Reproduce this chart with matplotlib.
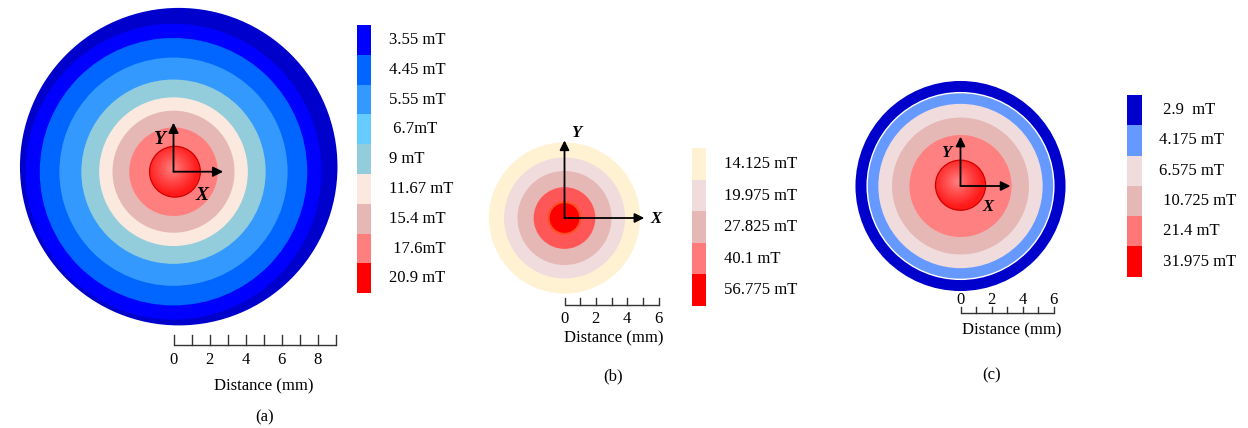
import numpy as np
import matplotlib
matplotlib.use("Agg")
import matplotlib.pyplot as plt
from matplotlib.patches import Circle
from matplotlib.colors import LinearSegmentedColormap

plt.rcParams["font.family"] = ["Liberation Serif", "DejaVu Serif"]

# ---------------- data ----------------
# (a) contour rings, outer -> inner, radius in mm
rings_a_radius = [8.22, 7.43, 6.34, 5.12, 4.13, 3.39, 2.46]
rings_a_color = ["#0000ff", "#0066ff", "#3399ff", "#93cddb", "#fbe9df", "#e5b8b6", "#ff7f7f"]
shell_a = (0.29, 0.28, 8.82)          # outer shell: centre offset x, y and radius (mm)
shell_a_color = "#0000cc"
ball_a_radius = 1.41

legend_a_labels = ["3.55 mT", "4.45 mT", "5.55 mT", " 6.7mT", "9 mT",
                   "11.67 mT", "15.4 mT", " 17.6mT", "20.9 mT"]
legend_a_colors = ["#0000ff", "#0066ff", "#3399ff", "#66ccff", "#93cddb",
                   "#fbe9df", "#e5b8b6", "#ff7f7f", "#ff0000"]

# (b)
rings_b_radius = [4.82, 3.86, 3.00, 1.97, 1.01]
rings_b_color = ["#fff2d2", "#f0dcdc", "#e5b8b6", "#ff5757", "#ff0000"]
legend_b_labels = ["14.125 mT", "19.975 mT", "27.825 mT", "40.1 mT", "56.775 mT"]
legend_b_colors = ["#fff2d2", "#f0dcdc", "#e5b8b6", "#ff7b7b", "#ff0000"]

# (c)
rings_c_radius = [6.75, 6.00, 5.28, 4.40, 3.28]
rings_c_color = ["#0000cc", "#6699ff", "#f0dcdc", "#e5b8b6", "#ff8080"]
ball_c_radius = 1.61
legend_c_labels = [" 2.9  mT", "4.175 mT", "6.575 mT", " 10.725 mT", " 21.4 mT", " 31.975 mT"]
legend_c_colors = ["#0000cc", "#6699ff", "#f0dcdc", "#e5b8b6", "#ff7777", "#ff0000"]

# scale bar ticks (mm)
ticks_a = list(range(0, 10))
ticks_b = list(range(0, 7))
ticks_c = list(range(0, 7))
ticklabels_a = [0, 2, 4, 6, 8]
ticklabels_bc = [0, 2, 4, 6]

# ---------------- figure ----------------
W, H = 1248, 428
fig = plt.figure(figsize=(W / 100, H / 100), dpi=100)


def panel_axes(x0, x1, cx, cy, ppm):
    """Axes spanning pixel columns x0..x1, in mm with origin at pixel (cx, cy)."""
    ax = fig.add_axes([x0 / W, 0, (x1 - x0) / W, 1])
    ax.set_xlim((x0 - cx) / ppm, (x1 - cx) / ppm)
    ax.set_ylim((cy - H) / ppm, cy / ppm)
    ax.axis("off")
    return ax


def finish(ax, lims):
    ax.set_xlim(lims[0])
    ax.set_ylim(lims[1])
    ax.set_aspect("auto")


def shaded_ball(ax, x, y, r, z=5):
    n = 240
    g = np.linspace(-1, 1, n)
    X, Y = np.meshgrid(g, g)
    d = np.clip(np.hypot(X + 0.12, Y - 0.12), 0, 1)
    cmap = LinearSegmentedColormap.from_list("ball", ["#ff8080", "#ff4a4a", "#ff1a1a"])
    im = ax.imshow(d, extent=(x - r, x + r, y - r, y + r), cmap=cmap, vmin=0, vmax=1,
                   origin="lower", zorder=z, interpolation="bilinear")
    edge = Circle((x, y), r, facecolor="none", edgecolor="#d00000", lw=0.9, zorder=z + 1)
    ax.add_patch(edge)
    clip = Circle((x, y), r, transform=ax.transData)
    im.set_clip_path(clip)


def axes_arrows(ax, lx, ly, xlab, ylab, fs, ms):
    kw = dict(arrowstyle="-|>", color="black", lw=1.3, mutation_scale=ms,
              shrinkA=0, shrinkB=0)
    ax.annotate("", xy=(lx, 0), xytext=(0, 0), arrowprops=kw, zorder=10)
    ax.annotate("", xy=(0, ly), xytext=(0, 0), arrowprops=kw, zorder=10)
    ax.text(*xlab, "X", fontsize=fs, fontweight="bold", fontstyle="italic",
            ha="center", va="center", zorder=11)
    ax.text(*ylab, "Y", fontsize=fs, fontweight="bold", fontstyle="italic",
            ha="center", va="center", zorder=11)


def scale_bar(ax, ticks, labels, y, tick_h, label_dy, title_xy, title_fs=12):
    ax.plot([ticks[0], ticks[-1]], [y, y], color="#333333", lw=1.0, solid_capstyle="butt")
    for t in ticks:
        ax.plot([t, t], [y, y + tick_h], color="#333333", lw=1.0)
    for t in labels:
        ax.text(t, y + label_dy, str(t), fontsize=12, ha="center", va="center")
    ax.text(*title_xy, "Distance (mm)", fontsize=title_fs, ha="center", va="center")


def legend_column(x0, x1, ytop, ybot, colors, labels, label_x):
    ax = fig.add_axes([x0 / W, 1 - ybot / H, (x1 - x0) / W, (ybot - ytop) / H])
    n = len(colors)
    ax.bar(np.zeros(n) + 0.5, np.ones(n), bottom=np.arange(n), width=1.0,
           color=colors, edgecolor="none")
    ax.set_xlim(0, 1)
    ax.set_ylim(n, 0)
    ax.axis("off")
    dx = (label_x - x0) / (x1 - x0)
    for i, lab in enumerate(labels):
        ax.text(dx, i + 0.5, lab, fontsize=12, ha="left", va="center", clip_on=False)


# ----- panel (a) -----
ppm_a = 18.0
ax_a = panel_axes(0, 350, 173.5, 171.7, ppm_a)
lims_a = (ax_a.get_xlim(), ax_a.get_ylim())
ax_a.add_patch(Circle((shell_a[0], shell_a[1]), shell_a[2], color=shell_a_color, lw=0))
for r, c in zip(rings_a_radius, rings_a_color):
    ax_a.add_patch(Circle((0, 0), r, color=c, lw=0))
shaded_ball(ax_a, 0.08, 0.0, ball_a_radius)
axes_arrows(ax_a, 2.76, 2.72, (1.57, -1.30), (-0.75, 1.80), 14, 15)
scale_bar(ax_a, ticks_a, ticklabels_a, -9.63, 0.56, -0.85, (5.04, -11.94))
ax_a.text(5.04, -13.64, "(a)", fontsize=12, ha="center", va="center")
finish(ax_a, lims_a)

legend_column(356.7, 371.0, 25.0, 293.3, legend_a_colors, legend_a_labels, 389.3)

# ----- panel (b) -----
ppm_b = 15.67
ax_b = panel_axes(470, 690, 564.5, 218.0, ppm_b)
lims_b = (ax_b.get_xlim(), ax_b.get_ylim())
for r, c in zip(rings_b_radius, rings_b_color):
    ax_b.add_patch(Circle((0, 0), r, color=c, lw=0))
ax_b.add_patch(Circle((0, 0), rings_b_radius[-1], facecolor="none",
                      edgecolor="#ff5020", lw=1.4, zorder=3))
axes_arrows(ax_b, 5.09, 4.95, (5.84, -0.06), (0.73, 5.45), 12, 14)
scale_bar(ax_b, ticks_b, ticklabels_bc, -5.55, 0.45, -0.92, (3.12, -7.68))
ax_b.text(3.09, -10.13, "(b)", fontsize=12, ha="center", va="center")
finish(ax_b, lims_b)

legend_column(692.3, 706.0, 148.3, 306.0, legend_b_colors, legend_b_labels, 724.3)

# ----- panel (c) -----
ppm_c = 15.56
ax_c = panel_axes(830, 1100, 960.5, 186.0, ppm_c)
lims_c = (ax_c.get_xlim(), ax_c.get_ylim())
for r, c in zip(rings_c_radius, rings_c_color):
    ax_c.add_patch(Circle((0, 0), r, color=c, lw=0))
ax_c.add_patch(Circle((0, 0), rings_c_radius[1], facecolor="none",
                      edgecolor="white", lw=1.0, zorder=3))
shaded_ball(ax_c, 0.0, 0.05, ball_c_radius)
axes_arrows(ax_c, 3.21, 3.17, (1.78, -1.37), (-0.93, 2.15), 12, 14)
scale_bar(ax_c, ticks_c, ticklabels_bc, -8.18, 0.39, 0.88, (3.29, -9.30))
ax_c.text(2.0, -12.2, "(c)", fontsize=12, ha="center", va="center")
finish(ax_c, lims_c)

legend_column(1127.3, 1141.7, 95.0, 276.7, legend_c_colors, legend_c_labels, 1159.3)

fig.savefig("out.png", dpi=100)
